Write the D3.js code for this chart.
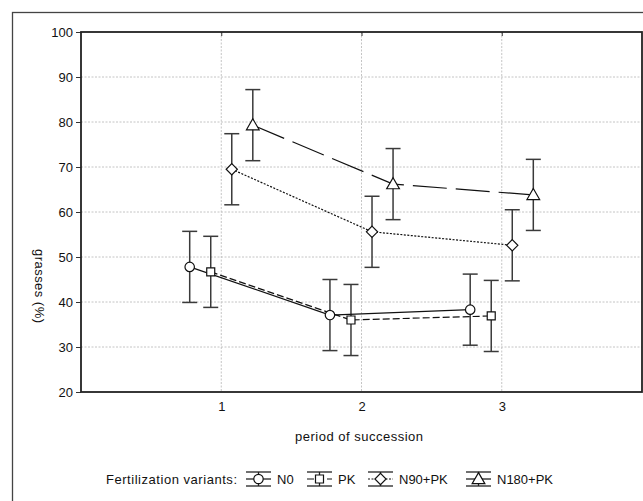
<!DOCTYPE html>
<html lang="en">
<head>
<meta charset="utf-8">
<title>grasses (%)</title>
<script src="https://cdn.jsdelivr.net/npm/d3@7"></script>
<style>
  body { margin: 0; background: #fff; }
  text { font-family: "Liberation Sans", Arial, sans-serif; fill: #111; }
</style>
</head>
<body>
<div id="chart"></div>
<script>
// data
var periods = [1, 2, 3];
var variants = ["N0", "PK", "N90+PK", "N180+PK"];
var n0     = [47.8, 37.1, 38.3];
var pk     = [46.7, 36.0, 36.9];
var n90pk  = [69.5, 55.6, 52.6];
var n180pk = [79.3, 66.2, 63.8];
var err0   = [7.9, 7.9, 7.9];
var errPk  = [7.9, 7.9, 7.9];
var err90  = [7.9, 7.9, 7.9];
var err180 = [7.9, 7.9, 7.9];
var yTicks = [20, 30, 40, 50, 60, 70, 80, 90, 100];

var series = [
  {name: variants[0], values: n0,     err: err0,   symbol: d3.symbolCircle,   dash: null},
  {name: variants[1], values: pk,     err: errPk,  symbol: d3.symbolSquare,   dash: "7,3"},
  {name: variants[2], values: n90pk,  err: err90,  symbol: d3.symbolDiamond2, dash: "2,1.5"},
  {name: variants[3], values: n180pk, err: err180, symbol: d3.symbolTriangle, dash: "34,9"}
];

var W = 643, H = 501;
var margin = {top: 32, right: 1, bottom: 109, left: 81};
var width = W - margin.left - margin.right,
    height = H - margin.top - margin.bottom;

var svg = d3.select("#chart").append("svg")
    .attr("width", W)
    .attr("height", H);

// outer frame of the figure
svg.append("rect")
    .attr("x", 12.5).attr("y", 12.5)
    .attr("width", 700).attr("height", 600)
    .attr("fill", "none").attr("stroke", "#444").attr("stroke-width", 1.3);

var g = svg.append("g")
    .attr("transform", "translate(" + margin.left + "," + margin.top + ")");

var x = d3.scaleLinear().domain([0, 4]).range([0, width]);
var y = d3.scaleLinear().domain([20, 100]).range([height, 0]);

// grid
g.append("g")
  .selectAll("line")
  .data(yTicks.slice(1, -1))
  .enter().append("line")
    .attr("x1", 0).attr("x2", width)
    .attr("y1", function(d) { return y(d); })
    .attr("y2", function(d) { return y(d); })
    .attr("stroke", "#c4c4c4").attr("stroke-dasharray", "2,1.5");
g.append("g")
  .selectAll("line")
  .data(periods)
  .enter().append("line")
    .attr("x1", function(d) { return x(d); })
    .attr("x2", function(d) { return x(d); })
    .attr("y1", 0).attr("y2", height)
    .attr("stroke", "#c4c4c4").attr("stroke-dasharray", "2,1.5");

// axes
var yAxis = g.append("g")
    .call(d3.axisLeft(y).tickValues(yTicks).tickSize(5).tickPadding(3));
var xAxis = g.append("g")
    .attr("transform", "translate(0," + height + ")")
    .call(d3.axisBottom(x).tickValues(periods).tickFormat(d3.format("d")).tickSize(0).tickPadding(10));
var xTop = g.append("g")
    .call(d3.axisTop(x).tickValues(periods).tickSize(-4).tickFormat(""));
[yAxis, xAxis, xTop].forEach(function(a) {
  a.select(".domain").remove();
  a.selectAll("line").attr("stroke", "#333");
  a.selectAll("text").style("font-size", "13px").attr("fill", "#111")
    .style("font-family", "'Liberation Sans', Arial, sans-serif");
});

// plot frame
g.append("rect")
    .attr("width", width).attr("height", height)
    .attr("fill", "none").attr("stroke", "#222").attr("stroke-width", 1.8);

// error bars
var cap = 7.5;
series.forEach(function(s, i) {
  var off = (i - 1.5) * 0.15;
  var eb = g.append("g").attr("stroke", "#3a3a3a").attr("stroke-width", 1.5);
  s.values.forEach(function(v, j) {
    var cx = x(periods[j] + off);
    eb.append("line").attr("x1", cx).attr("x2", cx)
      .attr("y1", y(v - s.err[j])).attr("y2", y(v + s.err[j]));
    eb.append("line").attr("x1", cx - cap).attr("x2", cx + cap)
      .attr("y1", y(v - s.err[j])).attr("y2", y(v - s.err[j]));
    eb.append("line").attr("x1", cx - cap).attr("x2", cx + cap)
      .attr("y1", y(v + s.err[j])).attr("y2", y(v + s.err[j]));
  });
});

// lines
series.forEach(function(s, i) {
  var off = (i - 1.5) * 0.15;
  var line = d3.line()
    .x(function(d, j) { return x(periods[j] + off); })
    .y(function(d) { return y(d); });
  g.append("path")
    .datum(s.values)
    .attr("d", line)
    .attr("fill", "none")
    .attr("stroke", "#111")
    .attr("stroke-width", 1.2)
    .attr("stroke-dasharray", s.dash);
});

// markers
var sizes = [70, 64, 80, 70];
series.forEach(function(s, i) {
  var off = (i - 1.5) * 0.15;
  var sym = d3.symbol().type(s.symbol).size(sizes[i]);
  g.selectAll(".m" + i)
    .data(s.values)
    .enter().append("path")
      .attr("d", sym)
      .attr("transform", function(d, j) {
        return "translate(" + x(periods[j] + off) + "," + (y(d) + (i == 3 ? 1 : 0)) + ")";
      })
      .attr("fill", "#fff").attr("stroke", "#111").attr("stroke-width", 1.2);
});

// axis titles
svg.append("text")
    .attr("x", 359)
    .attr("y", 441)
    .attr("text-anchor", "middle")
    .attr("textLength", 128)
    .style("font-size", "13px")
    .text("period of succession");
svg.append("text")
    .attr("transform", "translate(35,286) rotate(90)")
    .attr("text-anchor", "middle")
    .attr("textLength", 74)
    .style("font-size", "13px")
    .text("grasses (%)");

// legend
var ly = 479;
var legend = svg.append("g");
legend.append("text")
    .attr("x", 106).attr("y", ly + 4.5)
    .attr("textLength", 131)
    .style("font-size", "13px")
    .text("Fertilization variants:");
var lx = [246, 307, 368, 466];
series.forEach(function(s, i) {
  var lg = legend.append("g").attr("transform", "translate(" + lx[i] + "," + ly + ")");
  lg.append("line").attr("x1", 0).attr("x2", 25).attr("y1", -7).attr("y2", -7)
    .attr("stroke", "#222").attr("stroke-width", 1.3);
  lg.append("line").attr("x1", 0).attr("x2", 25).attr("y1", 7).attr("y2", 7)
    .attr("stroke", "#222").attr("stroke-width", 1.3);
  lg.append("line").attr("x1", 12.5).attr("x2", 12.5).attr("y1", -7).attr("y2", 7)
    .attr("stroke", "#222").attr("stroke-width", 1.3);
  lg.append("line").attr("x1", 0).attr("x2", 25).attr("y1", 0).attr("y2", 0)
    .attr("stroke", "#111").attr("stroke-width", 1.2)
    .attr("stroke-dasharray", i == 3 ? null : s.dash);
  lg.append("path")
    .attr("d", d3.symbol().type(s.symbol).size(sizes[i])())
    .attr("transform", "translate(12.5," + (i == 3 ? 1 : 0) + ")")
    .attr("fill", "#fff").attr("stroke", "#111").attr("stroke-width", 1.2);
  lg.append("text")
    .attr("x", 31).attr("y", 4.5)
    .style("font-size", "13px")
    .text(s.name);
});
</script>
</body>
</html>
